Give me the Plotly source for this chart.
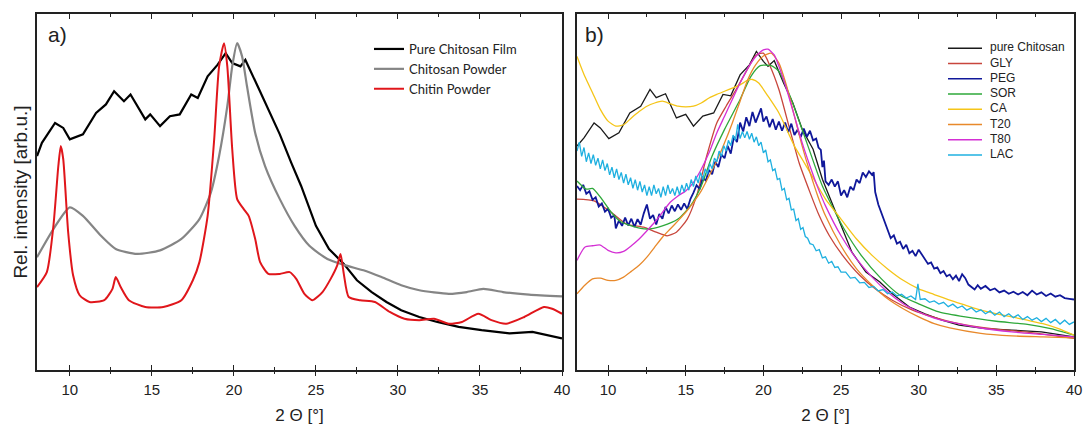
import plotly.graph_objects as go

# ---------------- Panel a data ----------------
film_x = [8.0, 8.3, 9.1, 9.6, 10.0, 10.8, 11.6, 12.2, 12.7, 13.3, 13.7, 14.6, 14.9, 15.5, 16.1, 16.7, 17.4, 17.8,
          18.4, 19.0, 19.5, 19.9, 20.4, 20.7, 21.5, 22.3, 22.8, 23.5, 24.1, 25.0, 25.8, 26.7, 27.5, 28.4, 29.3,
          30.2, 31.3, 32.4, 33.7, 35.1, 36.8, 38.2, 40.0]
film_y = [60.1, 63.8, 69.4, 68.0, 64.8, 66.2, 72.2, 74.6, 78.3, 75.5, 77.4, 70.4, 71.8, 68.5, 71.3, 71.8, 77.4, 76.4,
          82.5, 85.7, 89.0, 86.2, 85.3, 87.1, 79.2, 71.3, 66.2, 58.2, 51.7, 40.5, 34.0, 29.8, 25.2, 21.9, 19.1,
          16.8, 14.9, 13.5, 12.1, 11.2, 10.3, 10.7, 8.9]

cpow_x = [8.0, 9.0, 10.0, 10.8, 11.9, 12.8, 14.1, 15.5, 16.8, 17.9, 18.6, 19.1, 19.6, 19.9, 20.2, 20.5, 20.8, 21.3,
          21.9, 22.8, 23.7, 24.6, 25.7, 26.8, 27.9, 29.0, 30.2, 31.3, 33.1, 34.2, 35.2, 36.4, 38.0, 40.0]
cpow_y = [31.7, 39.6, 45.7, 43.3, 37.7, 34.0, 32.6, 33.6, 36.8, 42.4, 49.9, 60.1, 74.1, 85.3, 91.8, 88.1, 79.7, 66.6,
          57.3, 48.0, 40.5, 34.9, 31.2, 29.4, 28.0, 26.1, 23.8, 22.4, 21.4, 21.9, 22.8, 21.9, 21.2, 20.7]

chitin_x = [8.0, 8.6, 9.0, 9.3, 9.45, 9.6, 9.9, 10.2, 10.6, 11.2, 12.1, 12.6, 12.8, 13.1, 13.6, 14.6, 15.7, 16.8,
            17.5, 17.9, 18.4, 18.8, 19.1, 19.4, 19.6, 19.9, 20.2, 20.6, 20.9, 21.3, 21.6, 22.1, 22.8, 23.4, 23.8,
            24.3, 24.8, 25.4, 25.9, 26.3, 26.5, 26.7, 27.0, 27.7, 28.6, 29.5, 30.4, 31.3, 32.2, 33.1, 33.9, 34.9,
            35.7, 36.6, 37.7, 38.9, 39.4, 40.0]
chitin_y = [23.3, 27.5, 40.5, 57.3, 62.9, 59.2, 38.7, 26.6, 21.0, 19.1, 19.6, 22.8, 26.1, 23.3, 19.6, 17.7, 17.7, 19.6,
            25.2, 30.3, 43.3, 64.8, 85.3, 91.8, 85.3, 62.0, 48.0, 45.2, 43.3, 36.8, 30.3, 27.0, 27.0, 27.5, 25.6,
            21.4, 19.6, 21.9, 25.6, 29.4, 32.6, 27.0, 20.5, 19.6, 19.1, 16.3, 14.4, 14.0, 14.4, 13.0, 13.5, 15.8,
            14.0, 13.0, 14.9, 17.7, 17.2, 15.8]

# ---------------- Panel b data ----------------
pure_x = [8.0, 8.45, 9.1, 9.5, 10.05, 10.7, 11.4, 12.1, 12.7, 13.1, 13.7, 14.4, 15.0, 15.5, 16.1, 16.8, 17.4, 17.9,
          18.5, 19.1, 19.55, 20.0, 20.3, 20.7, 21.3, 21.9, 22.5, 23.2, 23.8, 24.5, 25.1, 25.7, 26.6, 27.5, 28.3,
          29.4, 30.4, 31.5, 32.6, 34.3, 36.0, 37.9, 40.0]
pure_y = [62.9, 65.2, 69.4, 68.0, 65.0, 66.6, 72.2, 74.1, 78.8, 76.5, 77.6, 70.8, 71.8, 68.5, 71.3, 72.2, 77.4, 77.0,
          82.9, 85.7, 89.5, 86.7, 85.3, 86.9, 80.6, 75.0, 67.6, 62.0, 53.6, 46.1, 39.6, 33.1, 27.5, 24.7, 21.4,
          17.7, 15.8, 14.0, 12.6, 11.6, 11.2, 10.7, 9.3]

gly_x = [8.0, 9.1, 10.2, 11.2, 12.3, 13.1, 13.8, 14.4, 15.1, 15.7, 16.35, 17.0, 17.6, 18.3, 18.9, 19.55, 20.0, 20.4,
         21.0, 21.7, 22.3, 23.0, 23.6, 24.25, 25.1, 26.2, 27.2, 28.3, 29.6, 30.9, 32.6, 34.7, 36.8, 40.0]
gly_y = [48.0, 47.5, 44.3, 41.0, 40.1, 38.7, 37.7, 38.7, 42.4, 48.9, 60.1, 69.4, 74.1, 79.2, 83.9, 88.5, 89.0, 85.7,
         78.8, 67.6, 58.2, 49.9, 43.3, 37.7, 32.2, 26.6, 22.8, 19.6, 16.8, 14.9, 13.0, 11.6, 10.7, 8.9]

peg_x = [8.0, 8.2, 8.4, 8.6, 8.8, 9.0, 9.2, 9.4, 9.6, 9.8, 10.0, 10.2, 10.4, 10.5, 10.7, 10.9, 11.1, 11.3, 11.5,
         11.7, 11.9, 12.1, 12.3, 12.5, 12.7, 12.9, 13.1, 13.3, 13.5, 13.7, 13.9, 14.1, 14.3, 14.5, 14.7, 14.9,
         15.1, 15.3, 15.5, 15.7, 15.9, 16.1, 16.3, 16.5, 16.7, 16.9, 17.1, 17.3, 17.5, 17.7, 17.9, 18.1, 18.3,
         18.5, 18.7, 18.9, 19.1, 19.3, 19.5, 19.7, 19.85, 20.0, 20.2, 20.4, 20.6, 20.8, 21.0, 21.2, 21.4, 21.6,
         21.8, 22.0, 22.2, 22.4, 22.6, 22.8, 23.0, 23.2, 23.4, 23.55, 23.7, 23.8, 23.9, 24.0, 24.2, 24.4, 24.6,
         24.8, 25.0, 25.2, 25.4, 25.6, 25.8, 26.0, 26.2, 26.4, 26.6, 26.8, 27.0, 27.1, 27.2, 27.4, 27.6, 27.8,
         28.0, 28.2, 28.4, 28.6, 28.8, 29.0, 29.2, 29.4, 29.6, 29.8, 30.0, 30.2, 30.4, 30.6, 30.8, 31.0, 31.2,
         31.4, 31.6, 31.8, 32.0, 32.2, 32.4, 32.6, 32.8, 33.0, 33.2, 33.4, 33.6, 33.8, 34.0, 34.3, 34.6, 34.9,
         35.2, 35.5, 35.8, 36.1, 36.4, 36.7, 37.0, 37.3, 37.6, 37.9, 38.2, 38.5, 38.8, 39.1, 39.4, 39.7, 40.0]
peg_y = [51.7, 50.5, 52.0, 49.5, 50.2, 47.8, 48.5, 45.9, 46.8, 44.5, 45.3, 42.8, 43.5, 39.8, 42.0, 40.5, 42.8, 40.6,
         42.5, 40.2, 42.4, 40.8, 44.0, 46.5, 42.5, 43.5, 40.9, 43.8, 42.5, 45.8, 44.0, 46.2, 44.6, 46.5, 45.0,
         46.8, 45.2, 48.0, 49.8, 51.9, 50.8, 54.0, 53.2, 56.2, 55.0, 58.5, 57.0, 60.5, 59.5, 63.0, 60.8, 65.5,
         64.0, 69.5, 67.0, 71.0, 68.5, 72.5, 69.5, 71.5, 73.5, 69.8, 71.2, 68.2, 70.5, 67.5, 69.8, 67.2, 69.5,
         66.8, 69.2, 66.0, 67.5, 65.4, 67.8, 65.5, 67.2, 64.5, 65.0, 62.5, 61.8, 57.0, 58.8, 53.0, 52.0, 53.5,
         51.5, 53.0, 49.0, 50.5, 48.5, 51.5, 50.5, 53.5, 52.5, 55.5, 54.2, 55.8, 54.8, 55.6, 50.0, 46.5, 44.0,
         42.0, 39.0, 37.0, 37.8, 35.5, 36.0, 34.0, 35.2, 32.8, 33.5, 32.0, 33.8, 32.5, 31.0, 29.8, 30.2, 28.5,
         28.8, 27.2, 27.8, 26.3, 26.8, 25.5, 26.5, 25.0, 26.9, 25.8, 24.0, 23.3, 22.6, 23.8, 22.8, 23.6, 22.4,
         22.9, 21.8, 22.3, 21.4, 22.0, 21.2, 21.9, 21.0, 22.3, 21.2, 21.8, 20.8, 21.5, 20.6, 21.0, 20.2, 20.0, 19.8]

sor_x = [8.0, 8.6, 9.0, 9.6, 10.2, 10.8, 11.5, 12.5, 13.5, 14.5, 15.3, 16.0, 16.7, 17.5, 18.5, 19.2, 19.8, 20.5,
         21.0, 21.8, 22.8, 23.8, 25.2, 26.3, 27.6, 28.8, 30.0, 31.3, 33.0, 35.0, 37.0, 38.5, 40.0]
sor_y = [53.1, 50.8, 51.0, 48.0, 44.3, 41.7, 40.5, 39.6, 40.5, 42.4, 46.1, 51.7, 60.1, 67.6, 76.0, 82.5, 85.5, 85.5,
         83.9, 76.0, 63.8, 51.7, 39.6, 32.2, 25.6, 21.0, 18.6, 16.3, 14.9, 13.7, 12.8, 11.6, 9.8]

ca_x = [8.0, 8.5, 9.0, 9.5, 10.0, 10.5, 11.0, 11.5, 12.0, 12.5, 13.0, 13.5, 14.0, 14.5, 15.0, 15.5, 16.0, 16.5,
        17.0, 17.5, 18.0, 18.5, 19.0, 19.3, 19.7, 20.3, 21.0, 21.5, 22.0, 22.5, 23.0, 23.5, 24.0, 25.0, 26.0,
        27.0, 28.0, 29.0, 30.0, 31.0, 32.0, 33.0, 34.0, 35.0, 36.0, 37.0, 38.0, 39.0, 40.0]
ca_y = [88.1, 82.5, 77.9, 73.2, 69.9, 68.5, 68.9, 70.8, 72.6, 74.1, 75.0, 75.5, 74.8, 74.1, 73.9, 74.1, 75.0, 76.4,
        77.4, 78.3, 79.2, 80.1, 81.4, 81.6, 80.6, 76.9, 72.2, 67.6, 62.9, 59.2, 55.5, 51.7, 48.0, 42.4, 36.8,
        32.2, 28.4, 25.2, 22.8, 21.2, 19.6, 18.2, 16.8, 15.8, 14.9, 14.0, 13.0, 11.6, 9.8]

t20_x = [8.0, 8.5, 9.0, 9.5, 10.0, 10.5, 11.0, 11.5, 12.0, 12.5, 13.0, 13.5, 14.0, 14.5, 15.0, 15.5, 16.0, 16.5,
         17.0, 17.5, 18.0, 18.5, 19.0, 19.5, 20.0, 20.5, 21.0, 21.5, 22.0, 22.5, 23.0, 23.5, 24.0, 25.0, 26.0,
         27.0, 28.0, 29.0, 30.0, 31.0, 32.0, 34.0, 36.0, 38.0, 40.0]
t20_y = [21.4, 23.8, 25.6, 25.8, 25.2, 25.2, 26.1, 27.7, 29.4, 31.7, 34.5, 37.3, 39.6, 41.9, 44.3, 47.1, 50.3, 54.5,
         58.7, 63.8, 69.4, 75.5, 81.6, 85.7, 88.2, 89.0, 86.2, 79.7, 71.3, 62.9, 55.5, 48.9, 43.3, 34.9, 28.4,
         23.8, 20.0, 17.2, 14.9, 13.0, 11.8, 10.3, 9.6, 9.3, 9.0]

t80_x = [8.0, 8.5, 9.0, 9.5, 10.0, 10.5, 11.0, 11.5, 12.0, 12.5, 13.0, 13.5, 14.0, 14.5, 15.0, 15.5, 16.0, 16.5,
         17.0, 17.5, 18.0, 18.5, 19.0, 19.5, 20.0, 20.3, 20.7, 21.0, 21.5, 22.0, 22.5, 23.0, 23.5, 24.0, 25.0,
         26.0, 27.0, 28.0, 29.0, 30.0, 31.0, 32.0, 34.0, 36.0, 38.0, 40.0]
t80_y = [30.8, 34.5, 34.9, 35.1, 33.6, 32.9, 33.3, 34.9, 36.8, 39.1, 41.5, 44.3, 47.1, 48.9, 50.3, 52.7, 56.4, 61.0,
         66.6, 71.3, 76.0, 80.6, 84.8, 88.0, 89.9, 90.1, 88.5, 85.3, 78.8, 71.3, 63.8, 57.3, 51.3, 46.1, 37.7,
         31.2, 26.1, 21.9, 18.6, 16.3, 14.6, 13.5, 11.8, 10.7, 10.0, 9.3]

lac_x = [8.0, 8.15, 8.3, 8.45, 8.6, 8.75, 8.9, 9.05, 9.2, 9.35, 9.5, 9.65, 9.8, 9.95, 10.1, 10.25, 10.4, 10.55,
         10.7, 10.85, 11.0, 11.15, 11.3, 11.45, 11.6, 11.75, 11.9, 12.05, 12.2, 12.35, 12.5, 12.65, 12.8, 12.95,
         13.1, 13.25, 13.4, 13.55, 13.7, 13.85, 14.0, 14.15, 14.3, 14.45, 14.6, 14.75, 14.9, 15.05, 15.2, 15.35,
         15.5, 15.65, 15.8, 15.95, 16.1, 16.25, 16.4, 16.55, 16.7, 16.85, 17.0, 17.15, 17.3, 17.45, 17.6, 17.75,
         17.9, 18.05, 18.2, 18.35, 18.5, 18.65, 18.8, 18.95, 19.1, 19.25, 19.4, 19.55, 19.7, 19.85, 20.0, 20.15,
         20.3, 20.45, 20.6, 20.75, 20.9, 21.05, 21.2, 21.35, 21.5, 21.65, 21.8, 21.95, 22.1, 22.25, 22.4, 22.55,
         22.7, 22.85, 23.0, 23.2, 23.4, 23.6, 23.8, 24.0, 24.2, 24.4, 24.6, 24.8, 25.0, 25.3, 25.6, 25.9, 26.2,
         26.5, 26.8, 27.1, 27.4, 27.7, 28.0, 28.3, 28.6, 28.9, 29.2, 29.5, 29.8, 29.95, 30.1, 30.4, 30.7, 31.0,
         31.3, 31.6, 31.9, 32.2, 32.5, 32.8, 33.1, 33.4, 33.7, 34.0, 34.3, 34.6, 34.9, 35.2, 35.5, 35.8, 36.1,
         36.4, 36.7, 37.0, 37.3, 37.6, 37.9, 38.2, 38.5, 38.8, 39.1, 39.4, 39.7, 40.0]
lac_y = [61.5, 64.0, 60.0, 62.5, 58.5, 61.0, 58.0, 60.5, 57.5, 59.5, 56.5, 59.0, 56.0, 58.0, 54.8, 57.0, 54.0, 56.5,
         53.5, 55.5, 52.5, 55.0, 52.0, 54.0, 51.0, 53.5, 50.5, 53.0, 50.0, 52.0, 49.0, 51.5, 49.0, 52.0,
         49.5, 51.0, 48.5, 51.5, 49.0, 52.0, 49.5, 51.0, 49.0, 51.5, 49.2, 52.0, 50.0, 52.5, 50.5, 53.5,
         51.5, 54.5, 52.5, 55.5, 53.5, 56.5, 55.0, 58.0, 56.5, 59.5, 58.5, 61.5, 60.0, 63.0, 61.5, 64.5,
         63.0, 66.0, 64.5, 69.0, 65.0, 67.0, 65.2, 67.0, 64.8, 66.5, 64.0, 65.5, 63.0, 64.0, 61.0, 61.8,
         58.5, 59.0, 56.0, 56.5, 53.5, 53.8, 50.5, 51.0, 47.8, 48.2, 45.0, 45.2, 42.0, 42.5, 39.5, 40.0,
         37.5, 37.0, 35.5, 35.2, 33.5, 33.8, 31.5, 31.8, 30.0, 30.5, 28.8, 29.0, 27.5, 27.5, 25.8, 26.0, 24.5,
         24.6, 23.2, 23.5, 22.2, 22.6, 21.4, 21.9, 20.8, 21.3, 20.2, 20.8, 19.8, 24.2, 19.8, 20.0, 19.0, 19.4,
         18.5, 19.0, 17.8, 18.5, 17.4, 18.0, 16.8, 17.5, 16.3, 16.9, 15.8, 16.6, 15.4, 16.3, 15.0, 15.8, 14.7,
         15.5, 14.2, 15.0, 14.0, 14.7, 13.6, 14.5, 13.3, 14.2, 12.9, 14.0, 12.8, 13.5]

x_ticks = [10, 15, 20, 25, 30, 35, 40]
x_minor = [12.5, 17.5, 22.5, 27.5, 32.5, 37.5]

FONT = "Liberation Sans, Arial, sans-serif"
LEG_A_FONT = "Lato, Liberation Sans, sans-serif"

fig = go.Figure()

# (name, x, y, colour, width, smooth?)
panel_a = [
    ("Pure Chitosan Film", film_x, film_y, "#000000", 2.2, False),
    ("Chitosan Powder", cpow_x, cpow_y, "#858585", 2.2, True),
    ("Chitin Powder", chitin_x, chitin_y, "#e0161b", 2.0, True),
]
for name, xs, ys, col, w, smooth in panel_a:
    fig.add_trace(go.Scatter(x=xs, y=ys, mode="lines", name=name,
                             line=dict(color=col, width=w, shape="spline" if smooth else "linear",
                                       smoothing=0.6),
                             xaxis="x", yaxis="y", legend="legend"))

panel_b = [
    ("pure Chitosan", pure_x, pure_y, "#1a1a1a", 1.3, False),
    ("GLY", gly_x, gly_y, "#c8463c", 1.3, True),
    ("PEG", peg_x, peg_y, "#10189a", 1.8, False),
    ("SOR", sor_x, sor_y, "#2ea83a", 1.3, True),
    ("CA", ca_x, ca_y, "#f5c518", 1.3, True),
    ("T20", t20_x, t20_y, "#e8892b", 1.3, True),
    ("T80", t80_x, t80_y, "#d42fd4", 1.3, True),
    ("LAC", lac_x, lac_y, "#1fb0e0", 1.3, False),
]
for name, xs, ys, col, w, smooth in panel_b:
    fig.add_trace(go.Scatter(x=xs, y=ys, mode="lines", name=name,
                             line=dict(color=col, width=w, shape="spline" if smooth else "linear",
                                       smoothing=0.6),
                             xaxis="x2", yaxis="y2", showlegend=False))

# empty traces so the overlay tick axes are created
fig.add_trace(go.Scatter(x=[None], y=[None], xaxis="x3", yaxis="y", showlegend=False, hoverinfo="skip"))
fig.add_trace(go.Scatter(x=[None], y=[None], xaxis="x4", yaxis="y2", showlegend=False, hoverinfo="skip"))

W, H, L, R, T, B = 1083, 425, 37, 9, 14, 55
plot_w = W - L - R
plot_h = H - T - B
dA = [0, (562 - L) / plot_w]
dB = [(577 - L) / plot_w, 1]

def px_x(p):
    return (p - L) / plot_w

def px_y(p):
    return (H - B - p) / plot_h

def xaxis_main(domain, anchor):
    return dict(domain=domain, anchor=anchor, range=[8, 40], tickvals=x_ticks,
                ticks="inside", ticklen=5, tickwidth=1.2, tickcolor="#222",
                minor=dict(tickvals=x_minor, ticks="inside", ticklen=3, tickwidth=1.2, tickcolor="#222"),
                showline=True, linecolor="#222", linewidth=1.5, mirror="ticks",
                showgrid=False, zeroline=False, ticklabelstandoff=5, ticklabeloverflow="allow",
                tickfont=dict(family=FONT, size=15, color="#222"),
                title=dict(text="2 Θ [°]", font=dict(family=FONT, size=17, color="#222"), standoff=12),
                automargin=False)

def xaxis_overlay(overlay, anchor):
    return dict(overlaying=overlay, anchor=anchor, range=[8, 40], tickvals=x_ticks,
                ticks="outside", ticklen=5, tickwidth=1.2, tickcolor="#222",
                minor=dict(tickvals=x_minor, ticks="outside", ticklen=3, tickwidth=1.2, tickcolor="#222"),
                showline=False, showticklabels=False, showgrid=False, zeroline=False, automargin=False)

def yaxis(anchor, title=None):
    d = dict(domain=[0, 1], anchor=anchor, range=[0, 100], showticklabels=False, ticks="",
             showline=True, linecolor="#222", linewidth=1.5, mirror=True,
             showgrid=False, zeroline=False, automargin=False)
    if title:
        d["title"] = dict(text=title, font=dict(family=FONT, size=19, color="#222"), standoff=3)
    return d

# manual legend for panel b (compact line spacing as in the original)
shapes = []
annotations = [
    dict(text="a)", xref="paper", yref="paper", x=px_x(46), y=px_y(34),
         xanchor="left", yanchor="middle", showarrow=False,
         font=dict(family=FONT, size=21, color="#222")),
    dict(text="b)", xref="paper", yref="paper", x=px_x(583), y=px_y(34),
         xanchor="left", yanchor="middle", showarrow=False,
         font=dict(family=FONT, size=21, color="#222")),
]
leg_b_top, leg_b_step = 48.3, 15.25
for i, (name, xs, ys, col, w, smooth) in enumerate(panel_b):
    yc = leg_b_top + i * leg_b_step
    shapes.append(dict(type="line", xref="paper", yref="paper",
                       x0=px_x(948), x1=px_x(982), y0=px_y(yc), y1=px_y(yc),
                       line=dict(color=col, width=1.5)))
    annotations.append(dict(text=name, xref="paper", yref="paper", x=px_x(988), y=px_y(yc - 1),
                            xanchor="left", yanchor="middle", showarrow=False,
                            font=dict(family=FONT, size=12, color="#222")))

fig.update_layout(
    width=W, height=H,
    margin=dict(l=L, r=R, t=T, b=B),
    paper_bgcolor="white", plot_bgcolor="white",
    font=dict(family=FONT, color="#222"),
    xaxis=xaxis_main(dA, "y"),
    xaxis2=xaxis_main(dB, "y2"),
    xaxis3=xaxis_overlay("x", "y"),
    xaxis4=xaxis_overlay("x2", "y2"),
    yaxis=yaxis("x", "Rel. intensity [arb.u.]"),
    yaxis2=yaxis("x2"),
    legend=dict(x=px_x(369), y=px_y(34), xanchor="left", yanchor="top",
                bgcolor="rgba(0,0,0,0)", font=dict(family=LEG_A_FONT, size=13, color="#222"),
                tracegroupgap=0, itemwidth=30),
    showlegend=True,
    shapes=shapes,
    annotations=annotations,
)

fig.write_html("out.html")
